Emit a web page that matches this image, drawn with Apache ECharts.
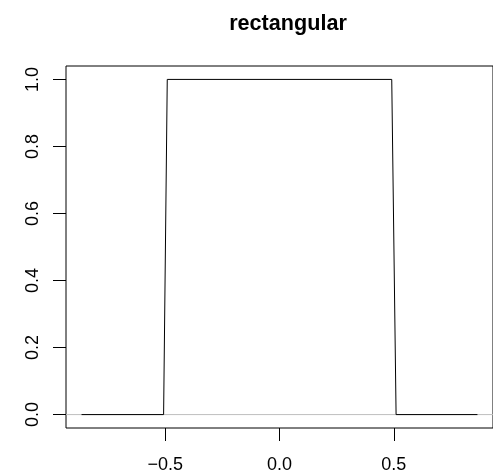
<!DOCTYPE html>
<html>
<head>
<meta charset="utf-8">
<script src="https://cdn.jsdelivr.net/npm/echarts@6/dist/echarts.min.js"></script>
<style>html,body{margin:0;padding:0;background:#fff;}#c{width:493px;height:474px;}</style>
</head>
<body>
<div id="c"></div>
<script>
var titleText = 'rectangular';
var densX = [-0.866, -0.507, -0.491, 0.491, 0.510, 0.866];
var densY = [0, 0, 1, 1, 0, 0];
var xTicks = [-0.5, 0, 0.5];
var yTicks = [0, 0.2, 0.4, 0.6, 0.8, 1.0];
var xRange = [-0.934, 0.934];
var yRange = [-0.04, 1.04];
var zeroLineY = 0;

var FONT = '"Liberation Sans", Arial, Helvetica, sans-serif';
var chart = echarts.init(document.getElementById('c'), null, {renderer: 'canvas'});
var data = densX.map(function (x, i) { return [x, densY[i]]; });
var zeroLine = [[xRange[0], zeroLineY], [xRange[1], zeroLineY]];
function fmt(v) { var s = Number(v).toFixed(1); return s.charAt(0) === '-' ? '\u2212' + s.slice(1) : s; }

chart.setOption({
  animation: false,
  backgroundColor: '#fff',
  title: {
    text: titleText, left: 283, top: 8, textAlign: 'center',
    textStyle: {fontFamily: FONT, fontWeight: 'bold', fontSize: 21.6, color: '#000'}
  },
  grid: {left: 66, top: 66, width: 433, height: 363.5, show: true, borderColor: '#000', borderWidth: 1, backgroundColor: 'transparent'},
  xAxis: {
    type: 'value', min: xRange[0], max: xRange[1], position: 'bottom',
    axisLine: {show: false, onZero: false},
    splitLine: {show: false},
    axisTick: {show: true, inside: false, customValues: xTicks, length: 13, lineStyle: {color: '#000', width: 1}},
    axisLabel: {show: true, customValues: xTicks, formatter: fmt, margin: 37, verticalAlign: 'middle',
      fontFamily: FONT, fontSize: 18, color: '#000'}
  },
  yAxis: {
    type: 'value', min: yRange[0], max: yRange[1], position: 'left',
    axisLine: {show: false, onZero: false},
    splitLine: {show: false},
    axisTick: {show: true, inside: false, customValues: yTicks, length: 13, lineStyle: {color: '#000', width: 1}},
    axisLabel: {show: true, customValues: yTicks, formatter: fmt, rotate: 90, margin: 24,
      fontFamily: FONT, fontSize: 18, color: '#000'}
  },
  series: [
    {
      type: 'line', data: zeroLine, z: 1, showSymbol: false, symbol: 'none', silent: true,
      lineStyle: {color: '#BEBEBE', width: 1}
    },
    {
      type: 'line', data: data, z: 3, showSymbol: false, symbol: 'none',
      lineStyle: {color: '#000', width: 1}, silent: true
    }
  ]
});
</script>
</body>
</html>
